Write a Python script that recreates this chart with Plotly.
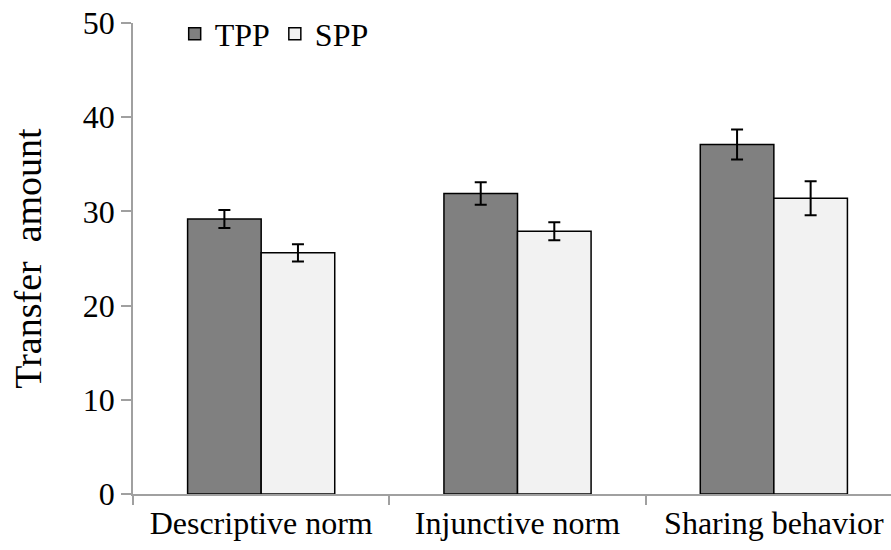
import plotly.graph_objects as go

categories = ["Descriptive norm", "Injunctive norm", "Sharing behavior"]
tpp_values = [29.2, 31.9, 37.1]
tpp_errors = [0.95, 1.2, 1.6]
spp_values = [25.6, 27.9, 31.4]
spp_errors = [0.92, 0.95, 1.8]
y_ticks = [0, 10, 20, 30, 40, 50]

FONT = "Liberation Serif, Times New Roman, serif"

fig = go.Figure()
fig.add_trace(go.Bar(
    name="TPP", x=categories, y=tpp_values,
    marker=dict(color="#808080", line=dict(color="black", width=1.5)),
    error_y=dict(type="data", array=tpp_errors, color="black", thickness=2, width=6),
))
fig.add_trace(go.Bar(
    name="SPP", x=categories, y=spp_values,
    marker=dict(color="#f2f2f2", line=dict(color="black", width=1.5)),
    error_y=dict(type="data", array=spp_errors, color="black", thickness=2, width=6),
))

fig.update_layout(
    width=891, height=550,
    margin=dict(l=133, r=0, t=23, b=56, autoexpand=False),
    paper_bgcolor="white", plot_bgcolor="white",
    barmode="group", bargap=0.426, bargroupgap=0,
    font=dict(family=FONT, size=32, color="black"),
    showlegend=True,
    legend=dict(orientation="h", x=0.055, y=1.035, xanchor="left", yanchor="top",
                font=dict(family=FONT, size=32, color="black"),
                bgcolor="rgba(0,0,0,0)", itemwidth=30, tracegroupgap=0),
)
fig.update_xaxes(
    type="category", range=[-0.5, 2.457], automargin=False,
    showline=True, linecolor="#a0a0a0", linewidth=1.5,
    ticks="outside", tickson="boundaries", ticklen=9, tickcolor="#a0a0a0", tickwidth=1.5,
    tickfont=dict(family=FONT, size=32, color="black"),
    showgrid=False, zeroline=False, ticklabeloverflow="allow",
)
fig.update_yaxes(
    range=[0, 50], tickvals=y_ticks, automargin=False,
    showline=True, linecolor="#a0a0a0", linewidth=1.5,
    ticks="outside", ticklen=10, tickcolor="#a0a0a0", tickwidth=1.5,
    tickfont=dict(family=FONT, size=32, color="black"),
    showgrid=False, zeroline=False, ticklabeloverflow="allow",
    title=dict(text="Transfer  amount", font=dict(family=FONT, size=38, color="black"), standoff=30),
)

fig.write_html("out.html", config={"displayModeBar": False},
               post_script="document.body.style.margin='0';")
